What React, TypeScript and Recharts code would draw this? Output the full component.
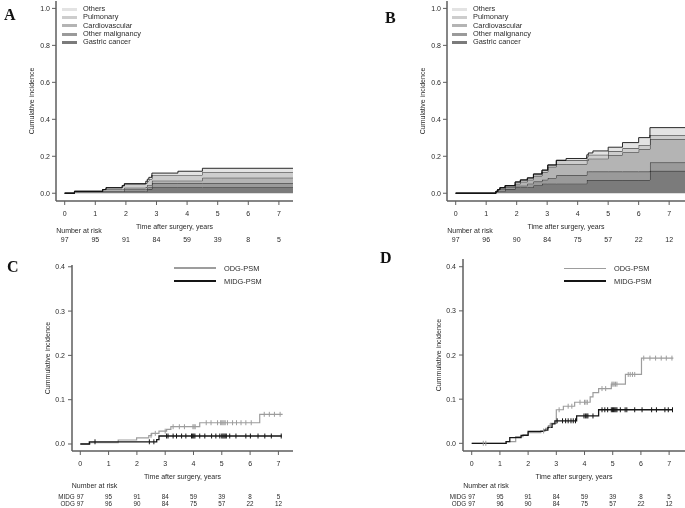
import React from 'react';
import { ComposedChart, Area, Line, Scatter, XAxis, YAxis, Legend } from 'recharts';

const FONT = '"Liberation Sans", Arial, sans-serif';
const TEXT = '#2a2a2a';
const AXIS = '#5e5e5e';

const yearTicks = [0, 1, 2, 3, 4, 5, 6, 7];
const causeYTicks = [0, 0.2, 0.4, 0.6, 0.8, 1.0];
const groupYTicks = [0, 0.1, 0.2, 0.3, 0.4];

// causes of death, bottom of the stack first
const causeKeys = ['gastric', 'otherMalig', 'cardio', 'pulmonary', 'others'];
const causeNames = ['Gastric cancer', 'Other malignancy', 'Cardiovascular', 'Pulmonary', 'Others'];
const causeFills = ['#7b7b7b', '#9a9a9a', '#b4b4b4', '#cdcdcd', '#e3e3e3'];

// panel A
const aTimes = [0, 0.32, 1.24, 1.35, 1.88, 1.95, 2.65, 2.7, 2.75, 2.85, 3.7, 4.5, 7.46];
const aGastric = [0, 0.01, 0.01, 0.01, 0.01, 0.01, 0.01, 0.021, 0.021, 0.031, 0.031, 0.031, 0.031];
const aOtherMalig = [0, 0, 0, 0, 0, 0.01, 0.01, 0.01, 0.01, 0.023, 0.023, 0.023, 0.023];
const aCardio = [0, 0, 0.01, 0.01, 0.01, 0.01, 0.014, 0.014, 0.014, 0.014, 0.014, 0.03, 0.03];
const aPulmonary = [0, 0, 0, 0.01, 0.021, 0.021, 0.021, 0.021, 0.031, 0.031, 0.031, 0.031, 0.031];
const aOthers = [0, 0, 0, 0, 0, 0, 0.01, 0.01, 0.01, 0.01, 0.02, 0.02, 0.02];
const aAtRisk = [97, 95, 91, 84, 59, 39, 8, 5];

// panel B
const bTimes = [0, 1.32, 1.38, 1.45, 1.62, 1.95, 2.12, 2.35, 2.55, 2.83, 3.02, 3.3, 3.62, 4.3, 4.35, 4.5, 5.0, 5.47, 6.0, 6.37, 7.52];
const bGastric = [0, 0.01, 0.01, 0.01, 0.021, 0.031, 0.031, 0.031, 0.042, 0.052, 0.052, 0.052, 0.052, 0.072, 0.072, 0.072, 0.072, 0.072, 0.072, 0.121, 0.121];
const bOtherMalig = [0, 0, 0.01, 0.01, 0.01, 0.01, 0.01, 0.021, 0.021, 0.021, 0.031, 0.045, 0.045, 0.045, 0.045, 0.045, 0.045, 0.045, 0.045, 0.045, 0.045];
const bCardio = [0, 0, 0, 0.01, 0.01, 0.01, 0.021, 0.021, 0.031, 0.042, 0.06, 0.06, 0.06, 0.06, 0.07, 0.07, 0.09, 0.105, 0.121, 0.126, 0.126];
const bPulmonary = [0, 0, 0, 0, 0, 0.01, 0.01, 0.01, 0.01, 0.01, 0.01, 0.021, 0.021, 0.021, 0.021, 0.021, 0.021, 0.021, 0.023, 0.023, 0.023];
const bOthers = [0, 0, 0, 0, 0, 0, 0, 0, 0, 0, 0, 0, 0.01, 0.01, 0.01, 0.021, 0.021, 0.031, 0.04, 0.04, 0.04];
const bAtRisk = [97, 96, 90, 84, 75, 57, 22, 12];

// panels C and D: ODG-PSM vs MIDG-PSM
const groupNames = ['ODG-PSM', 'MIDG-PSM'];
const groupColors = ['#9d9d9d', '#151515'];
const midgAtRisk = [97, 95, 91, 84, 59, 39, 8, 5];
const odgAtRisk = [97, 96, 90, 84, 75, 57, 22, 12];

const cOdgTimes = [0, 0.35, 1.34, 1.99, 2.42, 2.52, 2.78, 3.05, 3.2, 4.22, 6.34, 7.15];
const cOdg = [0, 0.003, 0.009, 0.014, 0.019, 0.024, 0.029, 0.033, 0.039, 0.048, 0.067, 0.067];
const cOdgCensor = [2.5, 2.65, 3.0, 3.28, 3.5, 3.68, 3.98, 4.02, 4.06, 4.45, 4.62, 4.85, 4.96, 5.0, 5.04, 5.08, 5.12, 5.2, 5.38, 5.52, 5.68, 5.85, 6.04, 6.5, 6.68, 6.86, 7.06];
const cMidgTimes = [0, 0.32, 2.7, 2.78, 7.12];
const cMidg = [0, 0.005, 0.01, 0.018, 0.018];
const cMidgCensor = [0.52, 2.44, 2.6, 3.05, 3.1, 3.28, 3.4, 3.58, 3.73, 3.93, 3.97, 4.01, 4.05, 4.22, 4.4, 4.64, 4.79, 4.93, 5.0, 5.04, 5.08, 5.12, 5.16, 5.28, 5.5, 5.85, 6.01, 6.28, 6.52, 6.75, 7.1];

const dOdgTimes = [0, 1.22, 1.56, 1.82, 2.0, 2.45, 2.62, 2.72, 2.8, 3.0, 3.25, 3.65, 4.2, 4.3, 4.5, 4.95, 5.45, 6.02, 7.15];
const dOdg = [0, 0.004, 0.015, 0.02, 0.024, 0.028, 0.034, 0.04, 0.045, 0.076, 0.084, 0.093, 0.105, 0.115, 0.124, 0.134, 0.156, 0.193, 0.193];
const dOdgCensor = [0.41, 0.5, 2.55, 2.78, 3.1, 3.42, 3.55, 3.84, 4.0, 4.05, 4.1, 4.62, 4.75, 4.97, 5.01, 5.05, 5.1, 5.15, 5.55, 5.62, 5.7, 5.78, 6.1, 6.32, 6.52, 6.72, 6.9, 7.1];
const dMidgTimes = [0, 1.22, 1.35, 1.75, 2.0, 2.55, 2.7, 2.85, 2.95, 3.72, 4.5, 7.12];
const dMidg = [0, 0.004, 0.013, 0.018, 0.027, 0.03, 0.036, 0.044, 0.051, 0.062, 0.076, 0.076];
const dMidgCensor = [3.03, 3.22, 3.33, 3.42, 3.52, 3.6, 3.68, 3.98, 4.03, 4.08, 4.12, 4.3, 4.62, 4.72, 4.82, 4.95, 4.99, 5.03, 5.07, 5.11, 5.15, 5.27, 5.44, 5.5, 5.78, 6.04, 6.38, 6.55, 6.85, 6.97, 7.12];

const stepAt = (times: number[], vals: number[], t: number) => {
  let v = 0;
  times.forEach((tt, i) => {
    if (tt <= t) v = vals[i];
  });
  return v;
};

const txt = { fontSize: 7, fill: TEXT, fontFamily: FONT };

type RiskRow = { label?: string; values: number[] };

// x tick: year label plus the number-at-risk table underneath
const makeRiskTick = (rows: RiskRow[], headerDy: number, rowDy: number[], rowSize: number) => (props: any) => {
  const { x, y, payload } = props;
  const i = yearTicks.indexOf(payload.value);
  const rowTxt = { ...txt, fontSize: rowSize };
  return (
    <g>
      <text x={x} y={y + 11} textAnchor="middle" {...txt}>{payload.value}</text>
      {i === 0 && (
        <text x={x - 8.5} y={y + headerDy} textAnchor="start" {...txt}>Number at risk</text>
      )}
      {rows.map((r, k) => (
        <g key={k}>
          {i === 0 && r.label && (
            <text x={x - 5.5} y={y + rowDy[k]} textAnchor="end" {...rowTxt}>{r.label}</text>
          )}
          <text x={x} y={y + rowDy[k]} textAnchor="middle" {...rowTxt}>{r.values[i]}</text>
        </g>
      ))}
    </g>
  );
};

const CauseLegend = () => (
  <div style={{ fontFamily: FONT, fontSize: 7.4, color: TEXT, lineHeight: '8.25px' }}>
    {[...causeNames].reverse().map((n, i) => (
      <div key={n} style={{ display: 'flex', alignItems: 'center', height: 8.25 }}>
        <span style={{ display: 'inline-block', width: 15, height: 3, background: [...causeFills].reverse()[i], marginRight: 6 }} />
        <span>{n}</span>
      </div>
    ))}
  </div>
);

const GroupLegend = () => (
  <div style={{ fontFamily: FONT, fontSize: 7.4, color: TEXT }}>
    {groupNames.map((n, i) => (
      <div key={n} style={{ display: 'flex', alignItems: 'center', height: 13 }}>
        <span style={{ display: 'inline-block', width: 42, height: i === 0 ? 1.4 : 2, background: groupColors[i], marginRight: 8 }} />
        <span>{n}</span>
      </div>
    ))}
  </div>
);

type CauseProps = {
  left: number;
  width: number;
  marginRight: number;
  xDomain: number[];
  times: number[];
  layers: number[][];
  atRisk: number[];
  legendLeft: number;
};

const CausePanel = ({ left, width, marginRight, xDomain, times, layers, atRisk, legendLeft }: CauseProps) => {
  const data = times.map((t, i) => {
    const row: any = { t };
    causeKeys.forEach((k, j) => {
      row[k] = layers[j][i];
    });
    return row;
  });
  return (
    <div style={{ position: 'absolute', left, top: 0, willChange: 'transform' }}>
      <ComposedChart width={width} height={251} data={data} margin={{ top: 1, right: marginRight, left: 0, bottom: 0 }}>
        <XAxis
          dataKey="t"
          type="number"
          domain={xDomain}
          ticks={yearTicks}
          allowDataOverflow
          height={50}
          tickSize={4}
          tickMargin={0}
          axisLine={{ stroke: AXIS, strokeWidth: 1.5 }}
          tickLine={{ stroke: AXIS }}
          tick={makeRiskTick([{ values: atRisk }], 27.8, [36.8], 7)}
          label={{ value: 'Time after surgery, years', position: 'insideTop', offset: 22.8, ...txt }}
        />
        <YAxis
          type="number"
          domain={[-0.042, 1.04]}
          ticks={causeYTicks}
          allowDataOverflow
          width={56}
          tickSize={4}
          tickMargin={2}
          axisLine={{ stroke: AXIS, strokeWidth: 1.5 }}
          tickLine={{ stroke: AXIS }}
          tickFormatter={(v: number) => v.toFixed(1)}
          tick={txt}
          label={{ value: 'Cumulative incidence', angle: -90, position: 'insideLeft', offset: 32, style: { textAnchor: 'middle' }, ...txt }}
        />
        {causeKeys.map((k, j) => (
          <Area
            key={k}
            type="stepAfter"
            dataKey={k}
            name={causeNames[j]}
            stackId="cause"
            stroke="#141414"
            strokeWidth={0.9}
            fill={causeFills[j]}
            fillOpacity={1}
            isAnimationActive={false}
          />
        ))}
        <Legend
          align="center"
          verticalAlign="middle"
          content={() => <CauseLegend />}
          wrapperStyle={{ left: legendLeft, top: 5.2, width: 'auto' }}
        />
      </ComposedChart>
    </div>
  );
};

type GroupProps = {
  left: number;
  width: number;
  marginRight: number;
  marginTop: number;
  xDomain: number[];
  yDomain: number[];
  odgTimes: number[];
  odg: number[];
  odgCensor: number[];
  midgTimes: number[];
  midg: number[];
  midgCensor: number[];
  legendLeft: number;
  legendTop: number;
};

const GroupPanel = (p: GroupProps) => {
  const odgLine = p.odgTimes.map((t, i) => ({ t, v: p.odg[i] }));
  const midgLine = p.midgTimes.map((t, i) => ({ t, v: p.midg[i] }));
  const odgMarks = p.odgCensor.map((t) => ({ t, v: stepAt(p.odgTimes, p.odg, t) }));
  const midgMarks = p.midgCensor.map((t) => ({ t, v: stepAt(p.midgTimes, p.midg, t) }));
  const mark = (color: string) => (s: any) => (
    <line x1={s.cx} x2={s.cx} y1={s.cy - 2.5} y2={s.cy + 2.5} stroke={color} strokeWidth={1} />
  );
  return (
    <div style={{ position: 'absolute', left: p.left, top: 250, willChange: 'transform' }}>
      <ComposedChart width={p.width} height={258} margin={{ top: p.marginTop, right: p.marginRight, left: 0, bottom: 0 }}>
        <XAxis
          dataKey="t"
          type="number"
          domain={p.xDomain}
          ticks={yearTicks}
          allowDataOverflow
          height={57}
          tickSize={4}
          tickMargin={0}
          axisLine={{ stroke: AXIS, strokeWidth: 1.5 }}
          tickLine={{ stroke: AXIS }}
          tick={makeRiskTick(
            [
              { label: 'MIDG', values: midgAtRisk },
              { label: 'ODG', values: odgAtRisk },
            ],
            32.5,
            [44.2, 50.6],
            6.3
          )}
          label={{ value: 'Time after surgery, years', position: 'insideTop', offset: 22.8, ...txt }}
        />
        <YAxis
          dataKey="v"
          type="number"
          domain={p.yDomain}
          ticks={groupYTicks}
          allowDataOverflow
          width={56}
          tickSize={4}
          tickMargin={3}
          axisLine={{ stroke: AXIS, strokeWidth: 1.5 }}
          tickLine={{ stroke: AXIS }}
          tickFormatter={(v: number) => v.toFixed(1)}
          tick={txt}
          label={{ value: 'Cummulative incidence', angle: -90, position: 'insideLeft', offset: 32, style: { textAnchor: 'middle' }, ...txt }}
        />
        <Line data={odgLine} dataKey="v" name="ODG-PSM" type="stepAfter" stroke={groupColors[0]} strokeWidth={1.2} dot={false} isAnimationActive={false} />
        <Line data={midgLine} dataKey="v" name="MIDG-PSM" type="stepAfter" stroke={groupColors[1]} strokeWidth={1.3} dot={false} isAnimationActive={false} />
        <Scatter data={odgMarks} dataKey="v" legendType="none" shape={mark(groupColors[0])} isAnimationActive={false} />
        <Scatter data={midgMarks} dataKey="v" legendType="none" shape={mark(groupColors[1])} isAnimationActive={false} />
        <Legend
          align="center"
          verticalAlign="middle"
          content={() => <GroupLegend />}
          wrapperStyle={{ left: p.legendLeft, top: p.legendTop, width: 'auto' }}
        />
      </ComposedChart>
    </div>
  );
};

const panelLetters = [
  { t: 'A', x: 4, y: 20 },
  { t: 'B', x: 385, y: 23 },
  { t: 'C', x: 7, y: 272 },
  { t: 'D', x: 380, y: 263 },
];

export default function App() {
  return (
    <div style={{ position: 'absolute', left: 0, top: 0, width: 685, height: 508, background: '#fff', overflow: 'hidden' }}>
      <CausePanel
        left={0}
        width={298}
        marginRight={5}
        xDomain={[-0.284, 7.461]}
        times={aTimes}
        layers={[aGastric, aOtherMalig, aCardio, aPulmonary, aOthers]}
        atRisk={aAtRisk}
        legendLeft={62}
      />
      <CausePanel
        left={391}
        width={294}
        marginRight={0}
        xDomain={[-0.285, 7.52]}
        times={bTimes}
        layers={[bGastric, bOtherMalig, bCardio, bPulmonary, bOthers]}
        atRisk={bAtRisk}
        legendLeft={61}
      />
      <GroupPanel
        left={16}
        width={282}
        marginRight={5}
        marginTop={15}
        xDomain={[-0.293, 7.516]}
        yDomain={[-0.0158, 0.404]}
        odgTimes={cOdgTimes}
        odg={cOdg}
        odgCensor={cOdgCensor}
        midgTimes={cMidgTimes}
        midg={cMidg}
        midgCensor={cMidgCensor}
        legendLeft={158}
        legendTop={11.5}
      />
      <GroupPanel
        left={407}
        width={278}
        marginRight={0}
        marginTop={9}
        xDomain={[-0.309, 7.563]}
        yDomain={[-0.0174, 0.4175]}
        odgTimes={dOdgTimes}
        odg={dOdg}
        odgCensor={dOdgCensor}
        midgTimes={dMidgTimes}
        midg={dMidg}
        midgCensor={dMidgCensor}
        legendLeft={157}
        legendTop={11.8}
      />
      <svg width={685} height={508} style={{ position: 'absolute', left: 0, top: 0, pointerEvents: 'none', willChange: 'transform' }}>
        {panelLetters.map((l) => (
          <text key={l.t} x={l.x} y={l.y} fontFamily='"Liberation Serif", "Times New Roman", serif' fontWeight="bold" fontSize={16} fill="#111">
            {l.t}
          </text>
        ))}
      </svg>
    </div>
  );
}
